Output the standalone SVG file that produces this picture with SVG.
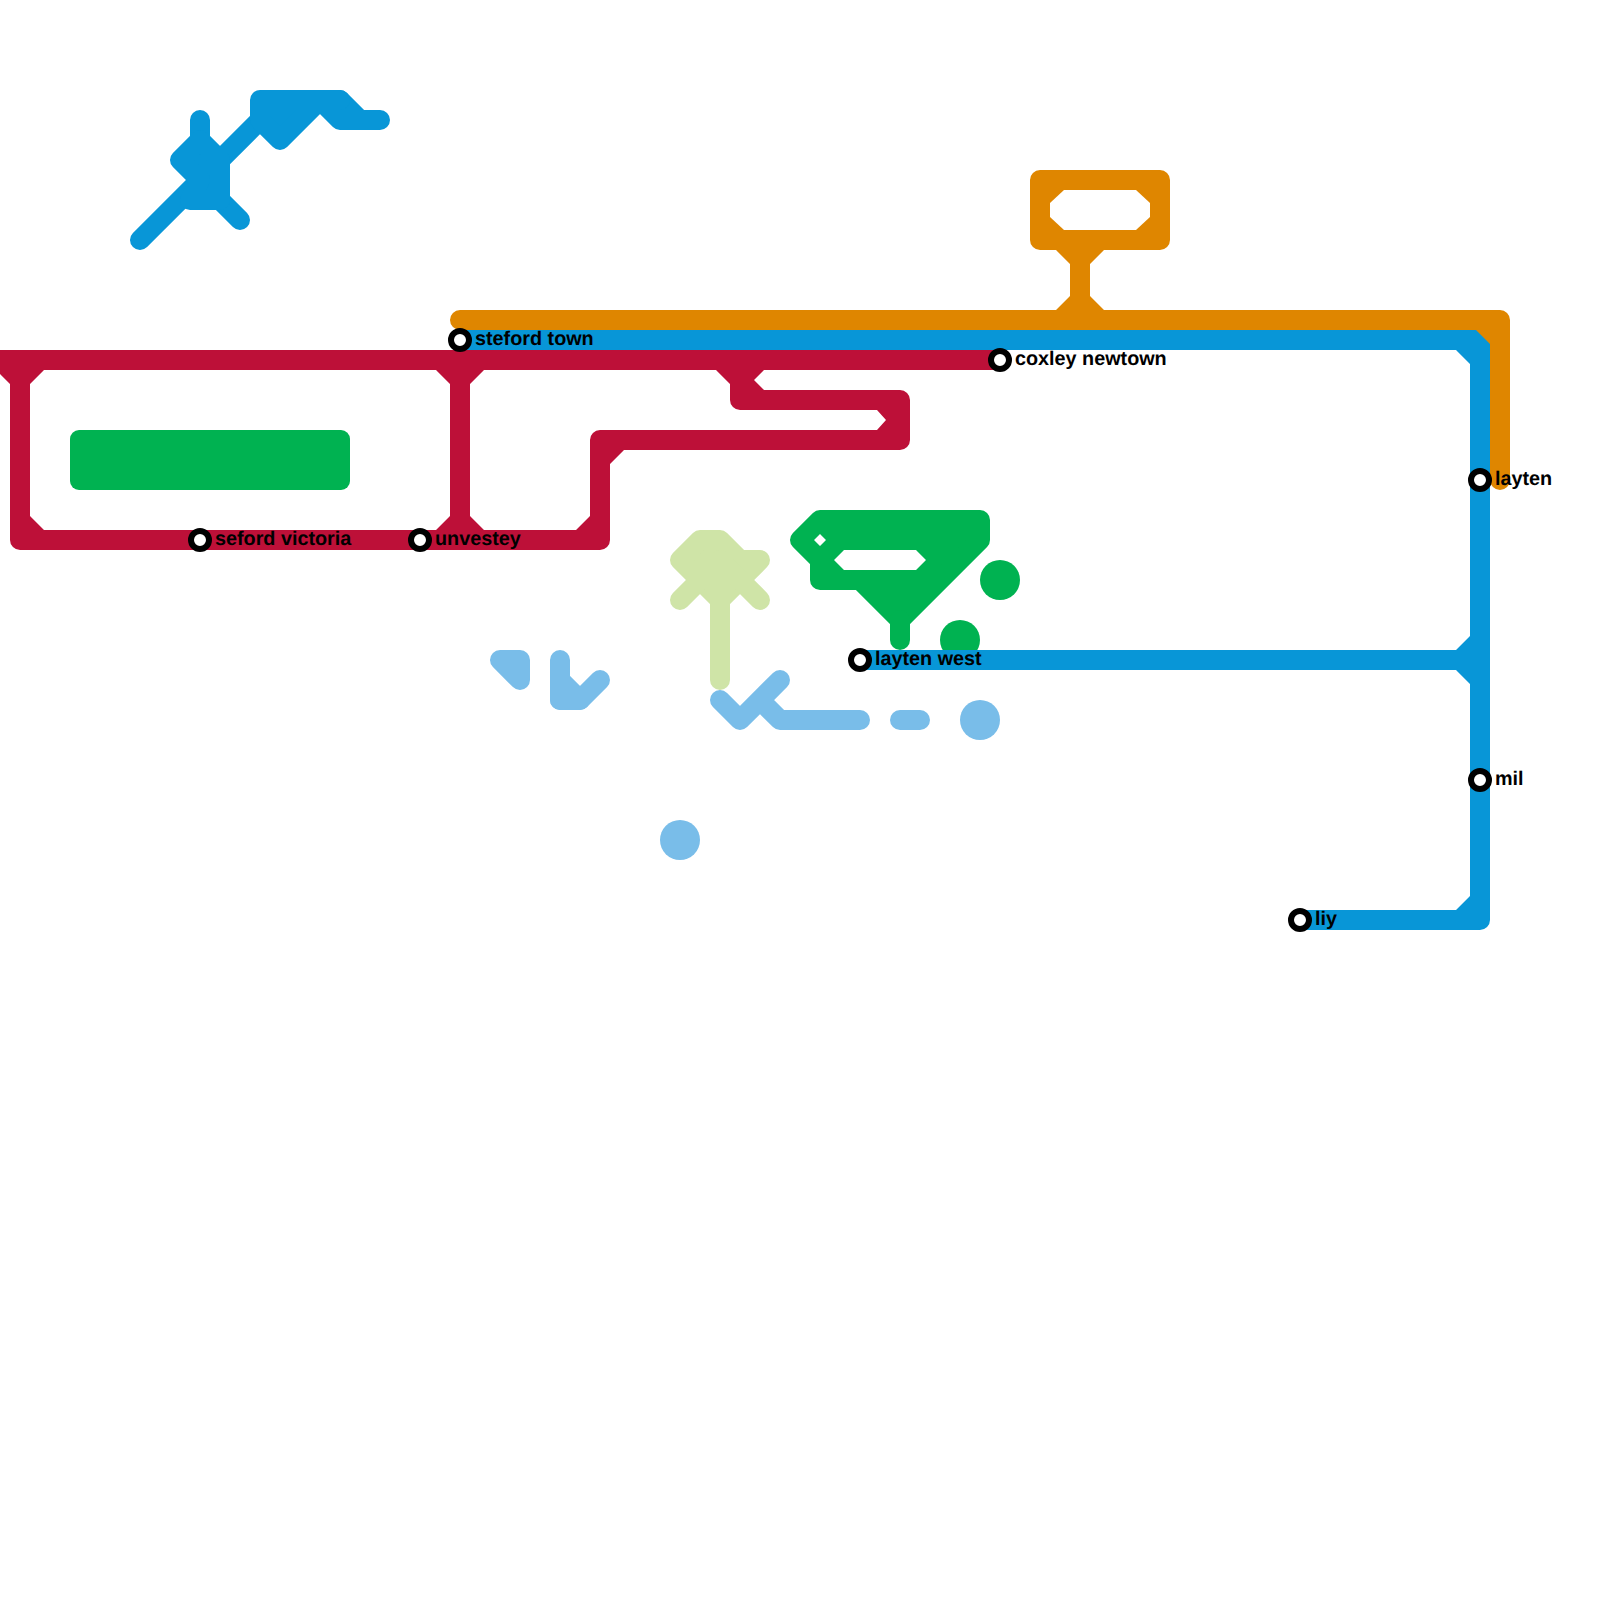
<svg xmlns="http://www.w3.org/2000/svg" width="1600" height="1600" viewBox="0 0 1600 1600">
<style>
.l{fill:none;stroke-width:20;stroke-linejoin:round;stroke-linecap:round}
.b{stroke-linecap:butt}
.f{stroke-width:20;stroke-linejoin:round;stroke-linecap:round}
.red{stroke:#bd1038}.red.f,.redc{fill:#bd1038}
.blue{stroke:#0896d7}.blue.f,.bluec{fill:#0896d7}
.orange{stroke:#df8600}.orange.f,.orangec{fill:#df8600}
.green{stroke:#00b251}.green.f,.greenc{fill:#00b251}
.sky{stroke:#79bde9}.sky.f,.skyc{fill:#79bde9}
.lime{stroke:#cfe4a7}.lime.f{fill:#cfe4a7}
.hole{fill:#fff}
.st{fill:#fff;stroke:#000;stroke-width:6}
text{font-family:"Liberation Sans",Arial,sans-serif;font-size:19.8px;font-weight:700;fill:#000;text-rendering:geometricPrecision}
</style>
<rect width="1600" height="1600" fill="#fff"/>
<g id="connectors">
<g id="line-green">
<rect class="greenc" x="70" y="430" width="280" height="60" rx="9"/>
<circle class="greenc" cx="1000" cy="580" r="20"/>
<circle class="greenc" cx="960" cy="640" r="20"/>
<path class="green f" d="M800 540L820 520H980V540L900 620L860 580H820V560Z"/>
<path class="green l" d="M900 620V640"/>
<path class="hole" d="M834 560L844 550H916L926 560L916 570H844ZM820 534L826 540L820 546L814 540Z"/>
</g>
<g id="line-lime">
<path class="lime f" d="M680 560L700 540H720L740 560H760L720 600Z"/>
<path class="lime l" d="M680 600L720 560L760 600M720 560V680"/>
</g>
<g id="line-sky">
<path class="sky f" d="M500 660H520V680Z"/>
<path class="sky f" d="M560 680V700H580Z"/>
<path class="sky l" d="M560 660V700H580L600 680M720 700L740 720L780 680M760 700L780 720H860M900 720H920"/>
<circle class="skyc" cx="980" cy="720" r="20"/>
<circle class="skyc" cx="680" cy="840" r="20"/>
</g>
<g id="line-blue">
<path class="blue l" d="M140 240L260 120M200 120V160M220 200L240 220M320 100L340 120H380M340 100L360 120"/>
<path class="blue f" d="M180 160L200 140L220 160V200H190L200 180Z"/>
<path class="blue f" d="M260 100H340L320 100L280 140L260 120Z"/>
<path class="blue l b" d="M460 340H1480V920H1300M860 660H1480"/>
<path class="bluec" d="M1456 350H1470V364ZM1456 910H1470V896ZM1456 650H1470V636ZM1456 670H1470V684Z"/>
</g>
<g id="line-orange">
<path class="orange l" d="M460 320H1500V480"/>
<path class="orangec" d="M1476 330H1490V344Z"/>
<path class="orange f" d="M1040 180H1160V240H1040Z"/>
<path class="hole" d="M1064 190H1136L1150 203V217L1136 230H1064L1050 217V203Z"/>
<path class="orangec" d="M1056 250L1070 264V296L1056 310H1104L1090 296V264L1104 250Z"/>
</g>
<g id="line-red">
<path class="red l b" d="M0 360H1000M740 360V400H900V440H600V540H20V360M460 360V540"/>
<path class="redc" d="M-4 370L10 384V370ZM30 384L44 370H30ZM436 370L450 384V370ZM470 384L484 370H470ZM716 370L730 384V370ZM750 370H764L754 380L764 390H750ZM30 516L44 530H30ZM436 530L450 516V530ZM470 516L484 530H470ZM590 516L576 530H590ZM610 464L624 450H610ZM877 410L886 420L877 430H890V410Z"/>
</g>
</g>
<g id="station-steford-town"><circle class="st" cx="460" cy="340" r="9"/><text x="475" y="345">steford town</text></g>
<g id="station-coxley-newtown"><circle class="st" cx="1000" cy="360" r="9"/><text x="1015" y="365">coxley newtown</text></g>
<g id="station-layten"><circle class="st" cx="1480" cy="480" r="9"/><text x="1495" y="485">layten</text></g>
<g id="station-seford-victoria"><circle class="st" cx="200" cy="540" r="9"/><text x="215" y="545">seford victoria</text></g>
<g id="station-unvestey"><circle class="st" cx="420" cy="540" r="9"/><text x="435" y="545">unvestey</text></g>
<g id="station-layten-west"><circle class="st" cx="860" cy="660" r="9"/><text x="875" y="665">layten west</text></g>
<g id="station-mil"><circle class="st" cx="1480" cy="780" r="9"/><text x="1495" y="785">mil</text></g>
<g id="station-liy"><circle class="st" cx="1300" cy="920" r="9"/><text x="1315" y="925">liy</text></g>
</svg>
